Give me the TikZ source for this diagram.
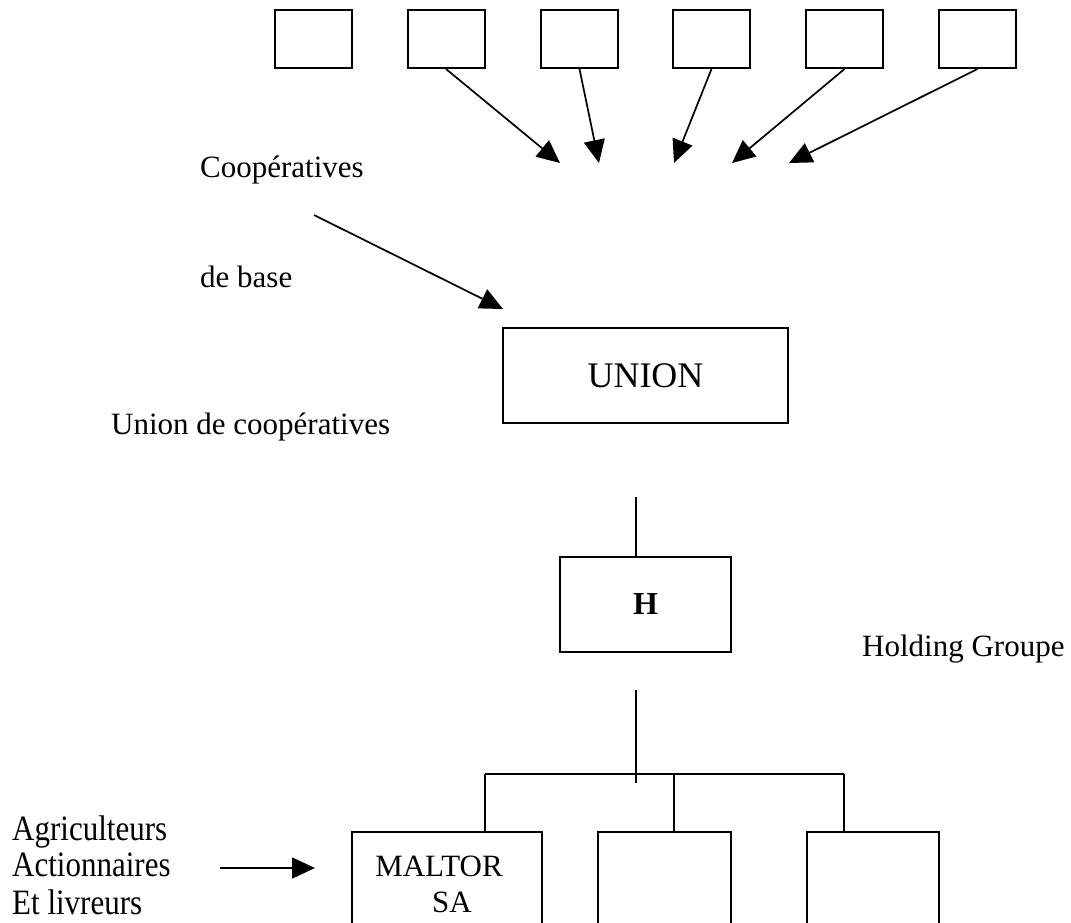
\documentclass[tikz,border=0pt]{standalone}
\usepackage{fontspec}
\setmainfont{Liberation Serif}
\usetikzlibrary{arrows.meta,calc}
\newcommand{\tallText}[1]{\scalebox{1}[1.15]{#1}}
\begin{document}
\begin{tikzpicture}[x=1pt,y=-1pt,
  box/.style={draw,line width=2pt,inner sep=0pt,minimum width=77pt,minimum height=58pt},
  bigbox/.style={draw,line width=2pt,inner sep=0pt},
  lbl/.style={anchor=base west,inner sep=0pt,font=\fontsize{31}{37}\selectfont},
  cname/.style={anchor=base,inner sep=0pt,font=\fontsize{31}{37}\selectfont},
  feed/.style={line width=1.7pt,-{Triangle[length=23pt,width=21pt]}},
  link/.style={line width=1.7pt}]
\useasboundingbox (0,0) rectangle (1071,922);

% base cooperatives
\foreach \i/\cx in {1/313.5,2/446,3/579.5,4/711.5,5/844.5,6/977.5}
  \node[box] (c\i) at (\cx,39) {};

% arrow tips converging above the union
\coordinate (t2) at (560,163);
\coordinate (t3) at (599,163);
\coordinate (t4) at (674,163);
\coordinate (t5) at (732,163);
\coordinate (t6) at (789,163);
\foreach \i in {2,...,6}
  \draw[feed] (c\i.south) -- (t\i);

% labels
\node[lbl] (coop) at (200,177) {Coopératives};
\node[lbl] (base) at (200,287) {de base};
\node[lbl] (ucoop) at (111,434) {Union de coopératives};
\node[lbl] (hold) at (862,656) {Holding Groupe};

\coordinate (ca) at (314,215);
\coordinate (cb) at (503,309);
\draw[feed] (ca) -- (cb);

% union and holding
\node[bigbox,minimum width=285pt,minimum height=95pt,font=\fontsize{36}{40}\selectfont] (union) at (645.5,375.5) {UNION};
\node[bigbox,minimum width=171pt,minimum height=95pt,font=\fontsize{32}{36}\selectfont\bfseries] (h) at (645.5,604.5) {H};

\coordinate (ua) at (636,497);
\draw[link] (ua) -- (ua |- h.north);
\coordinate (hb) at (636,690);
\coordinate (hc) at (636,783);
\draw[link] (hb) -- (hc);

% subsidiaries
\node[bigbox,anchor=north,minimum width=190pt,minimum height=150pt] (m1) at (447,831) {};
\node[bigbox,anchor=north,minimum width=133pt,minimum height=150pt] (m2) at (664.5,831) {};
\node[bigbox,anchor=north,minimum width=132pt,minimum height=150pt] (m3) at (873,831) {};

\node[cname] (maltor) at (439,876) {MALTOR};
\node[cname] (sa) at (452,912) {SA};

\coordinate (j1) at (485,774);
\coordinate (j2) at (674,774);
\coordinate (j3) at (844,774);
\draw[line width=2pt] (j1) -- (j3);
\draw[link] (j1) -- (j1 |- m1.north);
\draw[link] (j2) -- (j2 |- m2.north);
\draw[link] (j3) -- (j3 |- m3.north);

% farmers
\node[lbl] (agri) at (12,840) {\tallText{Agriculteurs}};
\node[lbl] (act) at (12,876) {\tallText{Actionnaires}};
\node[lbl] (liv) at (12,914) {\tallText{Et livreurs}};
\coordinate (fa) at (220,868);
\coordinate (fb) at (315,868);
\draw[feed] (fa) -- (fb);
\end{tikzpicture}
\end{document}
